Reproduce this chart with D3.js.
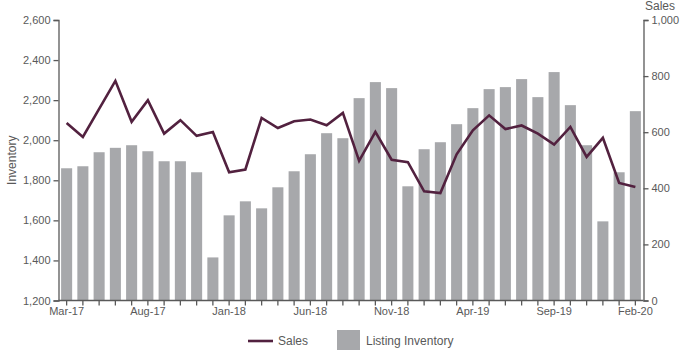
<!DOCTYPE html>
<html>
<head>
<meta charset="utf-8">
<script src="https://cdn.jsdelivr.net/npm/d3@7"></script>
<style>
  html, body { margin: 0; padding: 0; background: #fff; }
  svg { display: block; font-family: "Liberation Sans", Arial, sans-serif; }
</style>
</head>
<body>
<svg id="chart" width="700" height="350"></svg>
<script>
// Monthly listing inventory (bars, left axis) and sales (line, right axis)
const months = [
  "Mar-17","Apr-17","May-17","Jun-17","Jul-17","Aug-17","Sep-17","Oct-17","Nov-17","Dec-17",
  "Jan-18","Feb-18","Mar-18","Apr-18","May-18","Jun-18","Jul-18","Aug-18","Sep-18","Oct-18",
  "Nov-18","Dec-18","Jan-19","Feb-19","Mar-19","Apr-19","May-19","Jun-19","Jul-19","Aug-19",
  "Sep-19","Oct-19","Nov-19","Dec-19","Jan-20","Feb-20"
];
const inventory = [
  1860, 1870, 1940, 1962, 1975, 1945, 1895, 1895, 1840, 1415,
  1625, 1695, 1660, 1765, 1845, 1930, 2035, 2010, 2210, 2290,
  2260, 1770, 1955, 1990, 2080, 2160, 2255, 2265, 2305, 2215,
  2340, 2175, 1975, 1595, 1840, 2145
];
const sales = [
  633, 583, 683, 783, 637, 714, 595, 643, 587, 601,
  457, 467, 651, 615, 639, 645, 625, 669, 498, 601,
  502, 493, 389, 383, 521, 607, 660, 611, 624, 595,
  556, 619, 512, 580, 419, 405
];
const labeledMonths = ["Mar-17","Aug-17","Jan-18","Jun-18","Nov-18","Apr-19","Sep-19","Feb-20"];
const inventoryTicks = [1200, 1400, 1600, 1800, 2000, 2200, 2400, 2600];
const salesTicks = [0, 200, 400, 600, 800, 1000];

const svg = d3.select("#chart");
const plotLeft = 58.5, plotRight = 643.5, plotTop = 20, plotBottom = 300.5;
const axisColor = "#595959", textColor = "#595959";
const barColor = "#a7a8ab", lineColor = "#52213f";

const x = d3.scaleBand().domain(months).range([plotLeft, plotRight]).paddingInner(0.32).paddingOuter(0.16);
const yInv = d3.scaleLinear().domain([1200, 2600]).range([plotBottom, plotTop]);
const ySales = d3.scaleLinear().domain([0, 1000]).range([plotBottom, plotTop]);

// Bars
svg.append("g").selectAll("rect")
  .data(months)
  .join("rect")
  .attr("x", d => x(d))
  .attr("width", x.bandwidth())
  .attr("y", (d, i) => yInv(inventory[i]))
  .attr("height", (d, i) => yInv(1200) - yInv(inventory[i]))
  .attr("fill", barColor);

// Sales line
const line = d3.line()
  .x((d, i) => x(months[i]) + x.bandwidth() / 2)
  .y(d => ySales(d));
svg.append("path")
  .datum(sales)
  .attr("d", line)
  .attr("fill", "none")
  .attr("stroke", lineColor)
  .attr("stroke-width", 2.6)
  .attr("stroke-linejoin", "miter");

function styleAxis(g) {
  g.selectAll("path, line").attr("stroke", axisColor).attr("stroke-width", 1.3);
  g.selectAll("text").attr("fill", textColor).style("font-size", "11px")
    .style("font-family", "'Liberation Sans', Arial, sans-serif");
}

// Left axis
svg.append("g")
  .attr("transform", `translate(${plotLeft},0)`)
  .call(d3.axisLeft(yInv).tickValues(inventoryTicks).tickFormat(d3.format(",")).tickSizeOuter(0).tickSize(5).tickPadding(3))
  .call(styleAxis);

// Right axis
svg.append("g")
  .attr("transform", `translate(${plotRight},0)`)
  .call(d3.axisRight(ySales).tickValues(salesTicks).tickFormat(d3.format(",")).tickSizeOuter(0).tickSize(5).tickPadding(3))
  .call(styleAxis);

// Bottom axis: a tick every month, labels every fifth month
const xAxis = svg.append("g")
  .attr("transform", `translate(0,${plotBottom})`)
  .call(d3.axisBottom(x).tickSizeOuter(0).tickSize(5).tickPadding(2)
    .tickFormat(d => labeledMonths.includes(d) ? d : ""))
  .call(styleAxis);
xAxis.select(".domain").attr("d", `M${plotLeft},0H${plotRight}`);

// Axis titles
svg.append("text")
  .attr("transform", `translate(16,${(plotTop + plotBottom) / 2}) rotate(-90)`)
  .attr("text-anchor", "middle")
  .attr("fill", textColor)
  .style("font-size", "12px")
  .text("Inventory");
svg.append("text")
  .attr("x", 660).attr("y", 10)
  .attr("text-anchor", "middle")
  .attr("fill", textColor)
  .style("font-size", "12px")
  .text("Sales");

// Legend
const legend = svg.append("g");
legend.append("line")
  .attr("x1", 248).attr("x2", 273).attr("y1", 341).attr("y2", 341)
  .attr("stroke", lineColor).attr("stroke-width", 2.6);
legend.append("text")
  .attr("x", 278).attr("y", 345)
  .attr("fill", textColor).style("font-size", "12px").text("Sales");
legend.append("rect")
  .attr("x", 337).attr("y", 330).attr("width", 23).attr("height", 20)
  .attr("fill", barColor);
legend.append("text")
  .attr("x", 366).attr("y", 345)
  .attr("fill", textColor).style("font-size", "12px").text("Listing Inventory");
</script>
</body>
</html>
